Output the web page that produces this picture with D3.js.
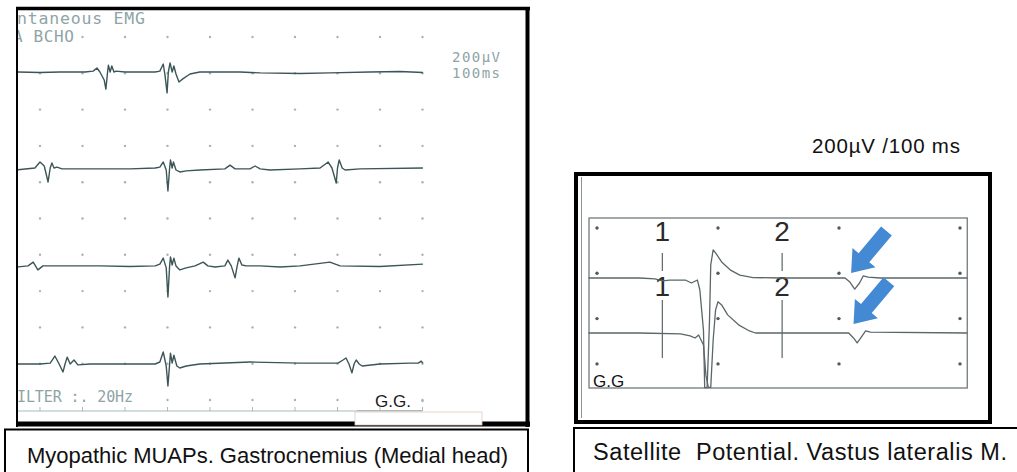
<!DOCTYPE html>
<html>
<head>
<meta charset="utf-8">
<script src="https://cdn.jsdelivr.net/npm/d3@7"></script>
<style>
  body { margin: 0; background: #fff; }
  svg { display: block; }
</style>
</head>
<body>
<div id="chart"></div>
<script>
// Gastrocnemius sweeps: [time ms, amplitude µV], 100 ms / 200 µV per division
const gastrocSweep1 = [[44,0],[100,-3],[147,0],[206,0],[225,5],[234,22],[241,0],[251,-44],[255,-94],[259,0],[261,38],[265,0],[269,33],[274,0],[279,5],[300,0],[371,0],[382,5],[390,44],[394,-16],[399,-115],[402,0],[406,50],[411,0],[415,33],[420,-11],[427,-55],[436,-38],[453,-11],[476,0],[571,0],[618,-5],[712,-8],[782,-5],[876,0],[947,3],[1001,-3]];
const gastrocSweep2 = [[44,-11],[88,0],[100,33],[110,11],[119,-77],[124,0],[128,28],[133,0],[140,5],[152,-5],[241,-5],[312,-5],[371,0],[382,5],[390,33],[397,-11],[401,-127],[405,0],[407,44],[411,0],[414,33],[420,-11],[429,-22],[444,-16],[476,-11],[535,-5],[547,16],[559,-5],[594,-5],[606,11],[618,-5],[641,-11],[712,-5],[759,0],[778,33],[787,0],[797,-83],[800,0],[804,44],[811,0],[818,-11],[853,-5],[1001,0]];
const gastrocSweep3 = [[44,-11],[72,-5],[84,16],[95,-27],[107,-5],[147,-5],[241,-5],[312,-8],[371,-5],[382,5],[390,38],[397,-16],[401,-176],[405,-5],[407,44],[411,0],[415,38],[420,-5],[429,-27],[444,-16],[465,-5],[484,16],[495,-5],[512,-11],[535,-5],[542,27],[550,-5],[559,-71],[564,-5],[568,38],[575,0],[585,-5],[618,-5],[665,-11],[712,-5],[782,16],[806,-5],[900,-8],[1001,5]];
const gastrocSweep4 = [[44,0],[100,0],[124,5],[135,44],[145,0],[154,-44],[159,0],[164,38],[171,0],[180,22],[189,-5],[218,0],[312,0],[371,0],[382,11],[390,66],[397,-11],[401,-121],[405,0],[407,60],[411,5],[415,49],[422,-11],[429,-22],[444,-11],[476,0],[594,11],[712,5],[801,5],[813,22],[820,33],[827,0],[834,-49],[839,0],[844,22],[851,0],[858,-11],[900,0],[971,5],[990,5],[997,16],[1001,5]];
const gastrocTicks = [100, 200, 300, 400, 500, 600, 700, 800, 900, 1000];

// Vastus lateralis sweeps with satellite potential
const vastusSweep1 = [[-7,0],[35,0],[48,-4],[54,-13],[60,-9],[73,-9],[78,-22],[83,-9],[85,-53],[88,-231],[89,-484],[91,-484],[93,-186],[94,58],[96,124],[98,111],[103,71],[110,36],[118,13],[129,2],[151,0],[205,0],[209,-18],[213,-49],[217,-22],[220,9],[224,4],[234,0],[306,0]];
const vastusSweep2 = [[-7,0],[35,0],[69,-4],[77,-13],[81,-22],[84,-9],[88,-53],[90,-186],[92,-240],[94,-240],[96,-31],[98,102],[100,138],[103,124],[108,80],[117,36],[126,9],[131,0],[208,0],[212,-22],[215,-44],[218,-22],[222,9],[226,4],[306,0]];
const vastusTicks = [0, 100, 200, 300];
const cursorTimes = [54, 153];
const cursorLabels = ['1', '2'];
const satelliteMarks = [[210, 22], [212, 40]];

const W = 1017, H = 472;
const svg = d3.select('#chart').append('svg')
  .attr('width', W).attr('height', H)
  .style('font-family', '"Liberation Sans", Arial, sans-serif');

svg.append('rect').attr('width', W).attr('height', H).attr('fill', '#fff');

// ---------- left panel ----------
const lx = d3.scaleLinear().domain([0, 1000]).range([-2.5, 422.5]);
const rowStep = 36.3;
const baselines = [72, 168, 265, 364];
const sweeps = [gastrocSweep1, gastrocSweep2, gastrocSweep3, gastrocSweep4];

svg.append('clipPath').attr('id', 'leftclip')
  .append('rect').attr('x', 18).attr('y', 10).attr('width', 507).attr('height', 411);

const left = svg.append('g').attr('clip-path', 'url(#leftclip)');
const monoCol = '#8ea4a6';

left.append('text').attr('x', 17).attr('y', 24).text('ntaneous EMG')
  .attr('font-family', '"DejaVu Sans Mono", monospace').attr('font-size', 16.5)
  .attr('textLength', 128).attr('fill', monoCol);
left.append('text').attr('x', 13).attr('y', 42).text('A BCHO')
  .attr('font-family', '"DejaVu Sans Mono", monospace').attr('font-size', 16)
  .attr('textLength', 61).attr('fill', monoCol);
left.append('text').attr('x', 452).attr('y', 62).text('200µV')
  .attr('font-family', '"DejaVu Sans Mono", monospace').attr('font-size', 14)
  .attr('textLength', 48).attr('fill', monoCol);
left.append('text').attr('x', 452).attr('y', 78).text('100ms')
  .attr('font-family', '"DejaVu Sans Mono", monospace').attr('font-size', 14)
  .attr('textLength', 48).attr('fill', monoCol);
left.append('text').attr('x', 17).attr('y', 402).text('ILTER :. 20Hz')
  .attr('font-family', '"DejaVu Sans Mono", monospace').attr('font-size', 15)
  .attr('textLength', 116).attr('fill', monoCol);

// grid dots
const dotRows = d3.range(11).map(i => 37 + i * rowStep);
dotRows.forEach((ry, ri) => {
  left.selectAll(null)
    .data(gastrocTicks.filter((t, ci) => !(ri === 0 && ci === 0) && !(ri === 10 && (ci < 3 || ci === 8))))
    .enter().append('circle')
    .attr('cx', d => lx(d)).attr('cy', ry).attr('r', 1.2)
    .attr('fill', '#9fb6b8');
});

// bottom baseline with ticks
left.append('line').attr('x1', 17).attr('x2', lx(1000)).attr('y1', 411).attr('y2', 411)
  .attr('stroke', '#a9bbbc').attr('stroke-width', 1);
left.selectAll(null).data(gastrocTicks).enter().append('line')
  .attr('x1', d => lx(d)).attr('x2', d => lx(d)).attr('y1', 407).attr('y2', 411)
  .attr('stroke', '#a9bbbc').attr('stroke-width', 1);

sweeps.forEach((data, i) => {
  const y = d3.scaleLinear().domain([0, 200]).range([baselines[i], baselines[i] - rowStep]);
  const line = d3.line().x(d => lx(d[0])).y(d => y(d[1]));
  left.append('path').datum(data).attr('d', line)
    .attr('fill', 'none').attr('stroke', '#3c5556').attr('stroke-width', 1.4)
    .attr('stroke-linejoin', 'round');
});

// borders
svg.append('line').attr('x1', 16).attr('x2', 530).attr('y1', 8.5).attr('y2', 8.5)
  .attr('stroke', '#000').attr('stroke-width', 3.5);
svg.append('line').attr('x1', 17).attr('x2', 17).attr('y1', 7).attr('y2', 427)
  .attr('stroke', '#000').attr('stroke-width', 2);
svg.append('line').attr('x1', 527.5).attr('x2', 527.5).attr('y1', 7).attr('y2', 427)
  .attr('stroke', '#000').attr('stroke-width', 4);
svg.append('line').attr('x1', 16).attr('x2', 530).attr('y1', 424).attr('y2', 424)
  .attr('stroke', '#000').attr('stroke-width', 5);
svg.append('rect').attr('x', 355).attr('y', 412).attr('width', 127).attr('height', 13)
  .attr('fill', '#fff').attr('stroke', '#e6c9c0').attr('stroke-width', 0.8);
svg.append('line').attr('x1', 357).attr('x2', lx(1000)).attr('y1', 410.5).attr('y2', 410.5)
  .attr('stroke', '#a9bbbc').attr('stroke-width', 1);
svg.append('text').attr('x', 375).attr('y', 407).text('G.G.')
  .attr('font-size', 17).attr('fill', '#1a1a1a');
svg.append('circle').attr('cx', lx(1000)).attr('cy', 401).attr('r', 1.2).attr('fill', '#9fb6b8');

// caption
svg.append('rect').attr('x', 5).attr('y', 429.5).attr('width', 523).attr('height', 60)
  .attr('fill', '#fff').attr('stroke', '#000').attr('stroke-width', 2);
svg.append('text').attr('x', 27).attr('y', 463).text('Myopathic MUAPs. Gastrocnemius (Medial head)')
  .attr('font-size', 22).attr('textLength', 481).attr('fill', '#111');

// ---------- right panel ----------
const rx = d3.scaleLinear().domain([0, 300]).range([597, 960]);
const rBase = [278, 333];
const rDiv = 45.3;
const rSweeps = [vastusSweep1, vastusSweep2];

svg.append('text').attr('x', 812).attr('y', 153).text('200µV /100 ms')
  .attr('font-size', 20.5).attr('textLength', 148).attr('fill', '#111');

// inner recording box
svg.append('rect').attr('x', rx(-6.6)).attr('y', 218).attr('width', rx(306) - rx(-6.6)).attr('height', 170)
  .attr('fill', 'none').attr('stroke', '#6f7a7c').attr('stroke-width', 1.3);
svg.append('line').attr('x1', 581.5).attr('x2', 581.5).attr('y1', 177).attr('y2', 418)
  .attr('stroke', '#8a9496').attr('stroke-width', 1);

const rRows = d3.range(4).map(i => 228 + i * rDiv);
rRows.forEach(ry => {
  svg.selectAll(null).data(vastusTicks).enter().append('circle')
    .attr('cx', d => rx(d)).attr('cy', ry).attr('r', 1.7).attr('fill', '#4f5a5c');
});

// cursors
cursorTimes.forEach((t, i) => {
  const cx = rx(t);
  svg.append('line').attr('x1', cx).attr('x2', cx).attr('y1', 253).attr('y2', 271)
    .attr('stroke', '#5d6769').attr('stroke-width', 1.2);
  svg.append('line').attr('x1', cx).attr('x2', cx).attr('y1', 300).attr('y2', 358)
    .attr('stroke', '#5d6769').attr('stroke-width', 1.2);
  svg.append('text').attr('x', cx).attr('y', 241).attr('text-anchor', 'middle')
    .text(cursorLabels[i]).attr('font-size', 28).attr('fill', '#2a2a2a');
  svg.append('text').attr('x', cx).attr('y', 296).attr('text-anchor', 'middle')
    .text(cursorLabels[i]).attr('font-size', 28).attr('fill', '#2a2a2a');
});

rSweeps.forEach((data, i) => {
  const y = d3.scaleLinear().domain([0, 200]).range([rBase[i], rBase[i] - rDiv]);
  const line = d3.line().x(d => rx(d[0])).y(d => y(d[1]));
  svg.append('path').datum(data).attr('d', line)
    .attr('fill', 'none').attr('stroke', '#5b6668').attr('stroke-width', 1.3)
    .attr('stroke-linejoin', 'round');
});

// arrows to satellite potentials
const arrowShape = [[0,0],[-20,-15],[-20,-7],[-55,-7],[-55,7],[-20,7],[-20,15]];
satelliteMarks.forEach((m, i) => {
  const y = d3.scaleLinear().domain([0, 200]).range([rBase[i], rBase[i] - rDiv]);
  svg.append('polygon')
    .attr('points', arrowShape.map(p => p.join(',')).join(' '))
    .attr('transform', `translate(${rx(m[0])},${y(m[1])}) rotate(130)`)
    .attr('fill', '#4489d3');
});

svg.append('text').attr('x', 593).attr('y', 387).text('G.G')
  .attr('font-size', 17).attr('fill', '#111');

// outer frame
svg.append('rect').attr('x', 576).attr('y', 174).attr('width', 414).attr('height', 248)
  .attr('fill', 'none').attr('stroke', '#000').attr('stroke-width', 4);

// caption
svg.append('rect').attr('x', 574).attr('y', 428).attr('width', 460).attr('height', 60)
  .attr('fill', '#fff').attr('stroke', '#000').attr('stroke-width', 2);
svg.append('text').attr('x', 593).attr('y', 460).text('Satellite\u00a0\u00a0Potential. Vastus lateralis M.')
  .attr('font-size', 23.5).attr('textLength', 414).attr('fill', '#111');
</script>
</body>
</html>
